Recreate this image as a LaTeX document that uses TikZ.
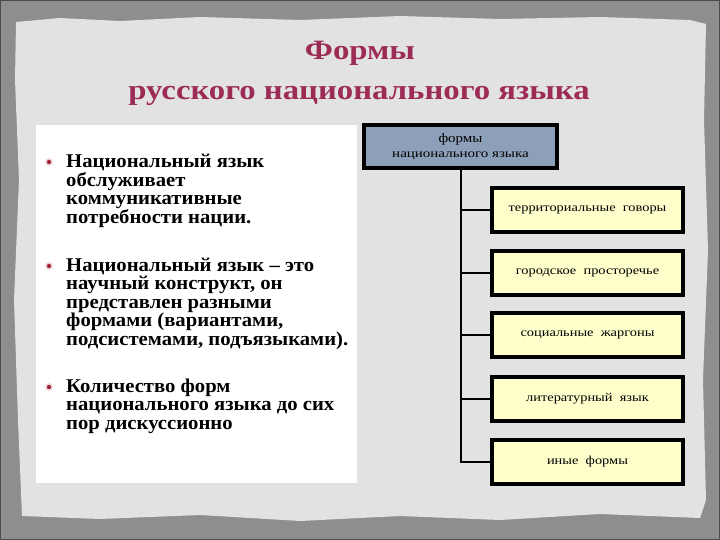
\documentclass[tikz,border=0pt]{standalone}
\usepackage{fontspec}
\setmainfont{Liberation Serif}
\newfontfamily\bodyfont[FakeStretch=1.06]{Liberation Serif}
\newfontfamily\titlefont[FakeStretch=1.17]{Liberation Serif}
\newfontfamily\boxfont[FakeStretch=1.2]{Liberation Serif}
\newfontfamily\headfonta[FakeStretch=1.15]{Liberation Serif}
\newfontfamily\headfontb[FakeStretch=1.25]{Liberation Serif}
\definecolor{frameg}{HTML}{8E8E8E}
\definecolor{paper}{HTML}{E2E2E2}
\definecolor{titlec}{HTML}{9C2B55}
\definecolor{headc}{HTML}{8DA0B9}
\definecolor{childc}{HTML}{FFFFCC}
\definecolor{bulc}{HTML}{9E1B2E}
\tikzset{
  bline/.style={anchor=base west, inner sep=0pt, font=\bodyfont\fontsize{19.5}{19.5}\selectfont\bfseries},
  ttl/.style={anchor=base, inner sep=0pt, text=titlec, font=\titlefont\fontsize{28}{28}\selectfont\bfseries},
  childbox/.style={draw=black, line width=4pt, fill=childc, minimum width=191pt, minimum height=44pt, inner sep=0pt, font=\boxfont\fontsize{12}{12}\selectfont},
  headbox/.style={draw=black, line width=4pt, fill=headc, minimum width=193pt, minimum height=43pt, inner sep=0pt, align=center},
  conn/.style={line width=2pt, draw=black},
  bul/.style={circle, fill=bulc, inner sep=0pt, minimum size=6pt, draw=bulc!20, line width=1.5pt}
}
\begin{document}
\begin{tikzpicture}[x=1pt,y=-1pt]
\useasboundingbox (0,0) rectangle (720,540);
\fill[frameg] (0,0) rectangle (720,540);
\fill[paper] (16,22) -- (60,18) -- (120,21) -- (200,17) -- (300,20) -- (400,16) -- (500,19) -- (600,17) -- (690,20) -- (706,24)
  -- (704,120) -- (708,250) -- (703,380) -- (706,500) -- (700,518)
  -- (600,514) -- (500,520) -- (400,516) -- (300,521) -- (200,515) -- (100,519) -- (22,516)
  -- (18,420) -- (14,300) -- (19,180) -- (15,80) -- cycle;
\draw[black!70, line width=1pt] (0.5,0.5) rectangle (719.5,539.5);
% title
\node[ttl] (t1) at (360,59.5) {Формы};
\node[ttl] (t2) at (359,100) {русского национального языка};
% white panel
\fill[white] (36,125) rectangle (357,483);
% bullets
\node[bul] (b1) at (49,162) {};
\node[bul] (b2) at (49,266) {};
\node[bul] (b3) at (49,387) {};
\node[bline] (l11) at (66,168) {Национальный язык};
\node[bline] (l12) at (66,186.5) {обслуживает};
\node[bline] (l13) at (66,205) {коммуникативные};
\node[bline] (l14) at (66,223.5) {потребности нации.};
\node[bline] (l21) at (66,271) {Национальный язык – это};
\node[bline] (l22) at (66,289.5) {научный конструкт, он};
\node[bline] (l23) at (66,308) {представлен разными};
\node[bline] (l24) at (66,326.5) {формами (вариантами,};
\node[bline] (l25) at (66,345) {подсистемами, подъязыками).};
\node[bline] (l31) at (66,392) {Количество форм};
\node[bline] (l32) at (66,410.5) {национального языка до сих};
\node[bline] (l33) at (66,429) {пор дискуссионно};
% diagram
\node[headbox] (h) at (460.5,146.5) {{\headfonta\fontsize{13}{13}\selectfont формы}\\[3pt]{\headfontb\fontsize{12}{12}\selectfont национального языка}};
\node[childbox] (c1) at (587.5,210) {территориальные\ \ говоры};
\node[childbox] (c2) at (587.5,272.5) {городское\ \ просторечье};
\node[childbox] (c3) at (587.5,335) {социальные\ \ жаргоны};
\node[childbox] (c4) at (587.5,398.5) {литературный\ \ язык};
\node[childbox] (c5) at (587.5,461.5) {иные\ \ формы};
\draw[conn] (h.south) |- (c5.west);
\foreach \c in {c1,c2,c3,c4}{
  \draw[conn] (\c.west) -- (\c.west -| h.south);
}
\end{tikzpicture}
\end{document}
